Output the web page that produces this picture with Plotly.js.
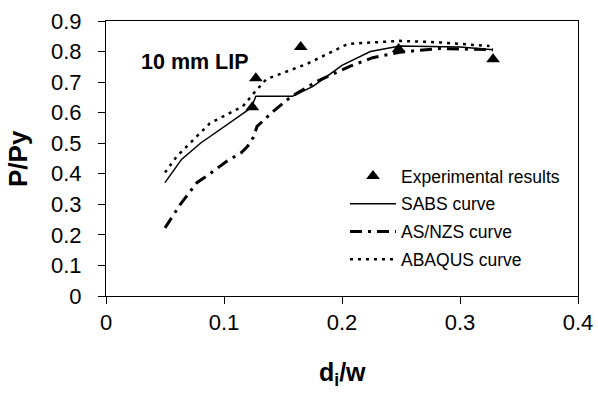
<!DOCTYPE html>
<html>
<head>
<meta charset="utf-8">
<script src="https://cdn.plot.ly/plotly-3.0.1.min.js"></script>
<style>html,body{margin:0;padding:0;background:#fff;}#chart{width:598px;height:396px;}</style>
</head>
<body>
<div id="chart"></div>
<script>
// Experimental results
var expX = [0.124, 0.127, 0.165, 0.248, 0.328];
var expY = [0.618, 0.713, 0.815, 0.808, 0.775];
// SABS curve
var sabsX = [0.05, 0.064, 0.08, 0.1, 0.119, 0.123, 0.127, 0.158, 0.175, 0.184, 0.2, 0.224, 0.249, 0.3, 0.328];
var sabsY = [0.371, 0.447, 0.50, 0.555, 0.605, 0.615, 0.654, 0.654, 0.685, 0.71, 0.755, 0.80, 0.818, 0.815, 0.806];
// AS/NZS curve
var asnzsX = [0.05, 0.063, 0.077, 0.088, 0.102, 0.115, 0.12, 0.125, 0.128, 0.142, 0.156, 0.179, 0.207, 0.226, 0.249, 0.283, 0.328];
var asnzsY = [0.223, 0.30, 0.371, 0.40, 0.44, 0.47, 0.49, 0.52, 0.555, 0.605, 0.65, 0.703, 0.752, 0.78, 0.798, 0.81, 0.806];
// ABAQUS curve
var abaqusX = [0.05, 0.06, 0.088, 0.116, 0.126, 0.136, 0.17, 0.205, 0.249, 0.283, 0.325];
var abaqusY = [0.404, 0.457, 0.565, 0.621, 0.667, 0.71, 0.759, 0.825, 0.835, 0.83, 0.818];

var names = ['Experimental results', 'SABS curve', 'AS/NZS curve', 'ABAQUS curve'];
var xTicks = [0, 0.1, 0.2, 0.3, 0.4];
var yTicks = [0, 0.1, 0.2, 0.3, 0.4, 0.5, 0.6, 0.7, 0.8, 0.9];

var traces = [
  {x: expX, y: expY, name: names[0], mode: 'markers', type: 'scatter', legendgroup: 'a',
   marker: {symbol: 'triangle-up', size: 12, color: '#000'}},
  {x: sabsX, y: sabsY, name: names[1], mode: 'lines', type: 'scatter', legendgroup: 'b',
   line: {color: '#000', width: 1.5}},
  {x: asnzsX, y: asnzsY, name: names[2], mode: 'lines', type: 'scatter', legendgroup: 'c',
   line: {color: '#000', width: 3, dash: '12px,6px,3px,6px'}},
  {x: abaqusX, y: abaqusY, name: names[3], mode: 'lines', type: 'scatter', legendgroup: 'd',
   line: {color: '#000', width: 2.5, dash: '3px,5px'}}
];

var pw = 598 - 106 - 20, ph = 396 - 21 - 100;
function px2paperX(px) { return (px - 106) / pw; }
function px2paperY(py) { return (296 - py) / ph; }

var layout = {
  width: 598, height: 396,
  margin: {l: 106, r: 20, t: 21, b: 100},
  paper_bgcolor: '#fff', plot_bgcolor: '#fff',
  font: {family: 'Liberation Sans, Arial, sans-serif', color: '#000'},
  showlegend: true,
  legend: {x: px2paperX(345), y: px2paperY(158), xanchor: 'left', yanchor: 'top', bgcolor: 'rgba(0,0,0,0)',
           font: {size: 17.5, color: '#000'}, traceorder: 'grouped', tracegroupgap: 2, itemwidth: 46},
  xaxis: {range: [0, 0.4], tickvals: xTicks, ticktext: xTicks.map(String),
          showgrid: false, zeroline: false, showline: true, linecolor: '#000', linewidth: 1,
          mirror: true, ticks: 'outside', ticklen: 7, tickcolor: '#000',
          tickfont: {size: 22}},
  yaxis: {range: [0, 0.9], tickvals: yTicks, ticktext: yTicks.map(String),
          showgrid: false, zeroline: false, showline: true, linecolor: '#000', linewidth: 1,
          mirror: true, ticks: 'outside', ticklen: 7, tickcolor: '#000', ticklabelstandoff: 12,
          tickfont: {size: 22}},
  annotations: [
    {text: '<b>10 mm LIP</b>', x: 0.0754, y: 0.765, xref: 'x', yref: 'y', showarrow: false,
     xanchor: 'center', yanchor: 'middle', font: {size: 21.5}},
    {text: '<b>d<sub>i</sub>/w</b>', x: px2paperX(342), y: px2paperY(374), xref: 'paper', yref: 'paper',
     showarrow: false, xanchor: 'center', yanchor: 'middle', font: {size: 25}},
    {text: '<b>P/Py</b>', textangle: -90, xref: 'paper', yref: 'paper', showarrow: false,
     x: px2paperX(18), y: px2paperY(159), xanchor: 'center', yanchor: 'middle', font: {size: 26}}
  ]
};

Plotly.newPlot('chart', traces, layout, {displayModeBar: false, staticPlot: true});
</script>
</body>
</html>
